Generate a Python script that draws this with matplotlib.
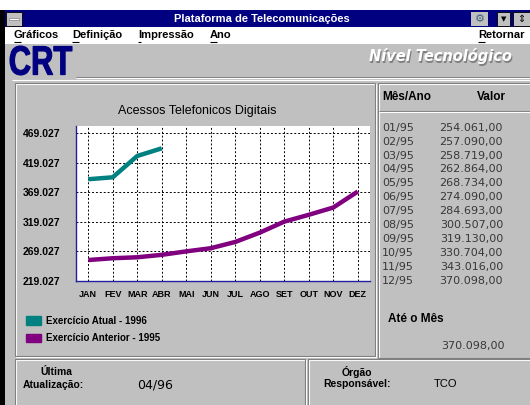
import matplotlib
matplotlib.use("Agg")
import matplotlib.pyplot as plt
from matplotlib.patches import Rectangle, Patch, PathPatch
from matplotlib.textpath import TextPath
from matplotlib.font_manager import FontProperties
from matplotlib.transforms import Affine2D

# dados
meses = ["JAN", "FEV", "MAR", "ABR", "MAI", "JUN", "JUL", "AGO", "SET", "OUT", "NOV", "DEZ"]
atual_1996 = [391000, 394300, 430400, 443400]
anterior_1995 = [254061, 257090, 258719, 262864, 268734, 274090,
                 284693, 300507, 319130, 330704, 343016, 370098]
y_ticks = [219027, 269027, 319027, 369027, 419027, 469027]
tabela_mes = ["01/95", "02/95", "03/95", "04/95", "05/95", "06/95",
              "07/95", "08/95", "09/95", "10/95", "11/95", "12/95"]
legenda = ["Exercício Atual - 1996", "Exercício Anterior - 1995"]
ate_o_mes = 370098
ultima_atualizacao = "04/96"
orgao = "TCO"

GRAY = "#c0c0c0"
DARK = "#808080"
NAVY = "#000080"
TEAL = "#008080"
PURPLE = "#800080"
FONT = "Liberation Sans"


def br(v):
    return f"{v:,}".replace(",", ".")


fig = plt.figure(figsize=(5.3, 4.05), dpi=100, facecolor=GRAY)

# fundo da janela em coordenadas de pixel
bg = fig.add_axes([0, 0, 1, 1])
bg.set_xlim(0, 530)
bg.set_ylim(405, 0)
bg.axis("off")


def rect(x0, y0, x1, y1, **kw):
    bg.add_patch(Rectangle((x0, y0), x1 - x0, y1 - y0, **kw))


def etched(x0, y0, x1, y1):
    rect(x0 + 1, y0 + 1, x1 + 1, y1 + 1, fill=False, ec="white", lw=0.8)
    rect(x0, y0, x1, y1, fill=False, ec=DARK, lw=0.8)


def hline(x0, x1, y, color):
    bg.plot([x0, x1], [y, y], color=color, lw=0.8, solid_capstyle="butt")


# barra de titulo e menu
rect(0, 0, 530, 10, fc="white", ec="none")
rect(0, 10, 5, 405, fc="black", ec="none")
rect(5, 10, 530, 27, fc=NAVY, ec="none")
rect(6, 12, 22, 26, fc=GRAY, ec="black", lw=0.6)
rect(9, 18, 19, 20, fc="white", ec=DARK, lw=0.5)
bg.text(262, 18.5, "Plataforma de Telecomunicações", color="white", fontsize=8,
        fontweight="bold", family=FONT, ha="center", va="center")
rect(471, 12, 488, 26, fc=GRAY, ec="none")
bg.text(479.5, 19, "⚙", fontsize=8, color="#406080", ha="center", va="center")
rect(497, 12, 510, 26, fc=GRAY, ec="black", lw=0.6)
bg.text(503.5, 19, "▼", fontsize=5, color="black", ha="center", va="center")
rect(513, 12, 531, 26, fc=GRAY, ec="black", lw=0.6)
bg.text(521, 19, "⇕", fontsize=7, color="black", ha="center", va="center")
rect(5, 27, 530, 44, fc="white", ec="none")
for texto, x in [("Gráficos", 14), ("Definição", 72), ("Impressão", 138), ("Ano", 210), ("Retornar", 478)]:
    bg.text(x, 35.5, texto, fontsize=8, fontweight="bold", family=FONT, va="center")
    w = 3 if texto[0] == "I" else 7
    hline(x, x + w, 41.5, "black")

# cabecalho
logo = TextPath((0, 0), "CRT", size=1, prop=FontProperties(family=FONT, weight="bold"))
ext = logo.get_extents()
t = Affine2D().translate(-ext.x0, -ext.y0).scale(62 / ext.width, -29 / ext.height).translate(10, 75)
bg.add_patch(PathPatch(logo, transform=t + bg.transData, fc=NAVY, ec=NAVY, lw=0.8))
hline(76, 530, 76.5, DARK)
hline(76, 530, 77.5, "white")
hline(12, 530, 79.5, "white")
for dx, c in [(1.2, DARK), (0, "white")]:
    bg.text(512 + dx, 56.5 + dx, "Nível Tecnológico", fontsize=10.5, fontweight="bold",
            fontstyle="italic", family="DejaVu Sans", color=c, ha="right", va="center")

# paineis
etched(15, 83, 375, 356)
etched(378, 83, 532, 358)
hline(379, 530, 111, DARK)
hline(379, 530, 112, "white")
etched(15, 359, 305, 410)
etched(308, 359, 532, 410)

# grafico
ax = fig.add_axes([76 / 530, 1 - 280.7 / 405, (370 - 76) / 530, (280.7 - 126) / 405])
ax.set_facecolor("white")
x = list(range(len(meses)))
ax.plot(x[:len(atual_1996)], atual_1996, color=TEAL, lw=3.2, solid_capstyle="butt")
ax.plot(x, anterior_1995, color=PURPLE, lw=3.2, solid_capstyle="butt")
ax.set_xlim(-0.5, 11.5)
ax.set_ylim(y_ticks[0], 481230)
ax.set_xticks(x)
ax.set_xticklabels(meses, fontsize=6.5, fontweight="bold", family=FONT)
ax.set_yticks(y_ticks)
ax.set_yticklabels([br(v) for v in y_ticks], fontsize=7.5, fontweight="bold", family=FONT)
ax.tick_params(axis="x", length=0, pad=7)
ax.tick_params(axis="y", length=0, pad=11)
ax.grid(True, color="black", lw=0.7, linestyle=(0, (2, 2)))
for s in ["top", "right"]:
    ax.spines[s].set_visible(False)
for s in ["left", "bottom"]:
    ax.spines[s].set_color("#2020a0")
    ax.spines[s].set_linewidth(1)
bg.text(197, 111, "Acessos Telefonicos Digitais", fontsize=9, family=FONT,
        ha="center", va="center")

fig.legend(handles=[Patch(fc=TEAL, ec=TEAL), Patch(fc=PURPLE, ec=PURPLE)], labels=legenda,
           loc="upper left", bbox_to_anchor=(21 / 530, 1 - 311 / 405), frameon=False,
           prop=FontProperties(family=FONT, weight="bold", size=7), handlelength=1.6,
           handleheight=0.9, labelspacing=0.75, handletextpad=0.5, borderpad=0)

# tabela lateral
bg.text(382, 97.5, "Mês/Ano", fontsize=8.5, fontweight="bold", family=FONT, va="center")
bg.text(491, 97.5, "Valor", fontsize=8.5, fontweight="bold", family=FONT, va="center", ha="center")
for i, (m, v) in enumerate(zip(tabela_mes, anterior_1995)):
    y = 127.7 + i * 13.9
    bg.text(382, y, m, fontsize=8, family="DejaVu Sans", color="#383838", va="center")
    bg.text(503, y, br(v) + ",00", fontsize=8, family="DejaVu Sans", color="#383838",
            va="center", ha="right")
bg.text(388, 319, "Até o Mês", fontsize=8.5, fontweight="bold", family=FONT, va="center")
bg.text(505, 346, br(ate_o_mes) + ",00", fontsize=8, family="DejaVu Sans", color="#383838",
        va="center", ha="right")

# rodape
bg.text(56, 372, "Última", fontsize=7.5, fontweight="bold", family=FONT, ha="center", va="center")
bg.text(23, 385, "Atualização:", fontsize=7.5, fontweight="bold", family=FONT, va="center")
bg.text(155, 384.5, ultima_atualizacao, fontsize=9, family="DejaVu Sans", ha="center", va="center")
bg.text(357, 372.5, "Órgão", fontsize=7.5, fontweight="bold", family=FONT, ha="center", va="center")
bg.text(323, 384, "Responsável:", fontsize=7.5, fontweight="bold", family=FONT, va="center")
bg.text(446, 384, orgao, fontsize=8, family=FONT, ha="center", va="center")

fig.savefig("out.png", dpi=100, facecolor=GRAY)
